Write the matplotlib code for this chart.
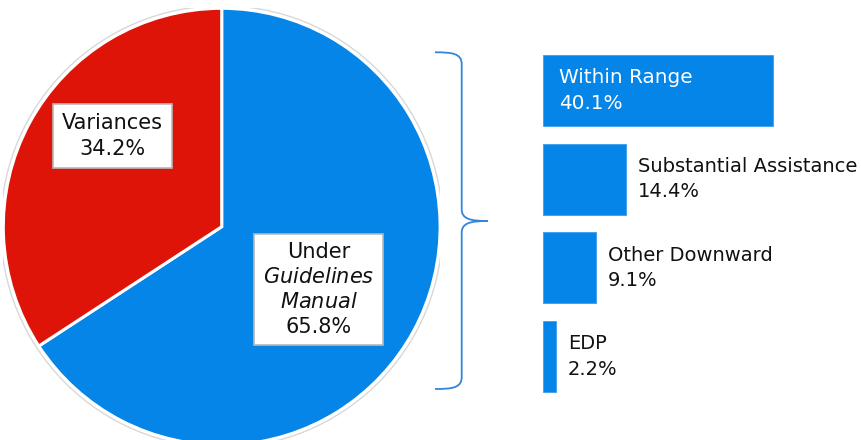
import matplotlib
matplotlib.use("Agg")
import matplotlib.pyplot as plt
from matplotlib.patches import Circle, PathPatch
from matplotlib.path import Path

# ---- data ----
pie_labels = ["Under\n$\\mathit{Guidelines}$\n$\\mathit{Manual}$", "Variances"]
pie_values = [65.8, 34.2]
bar_labels = ["Within Range", "Substantial Assistance", "Other Downward", "EDP"]
bar_values = [40.1, 14.4, 9.1, 2.2]

BLUE = "#0585E8"
RED = "#DE1408"
TXT = "#111111"

plt.rcParams['font.family'] = ['DejaVu Sans']
plt.rcParams['mathtext.fontset'] = 'dejavusans'

W, H = 862, 440
fig = plt.figure(figsize=(W / 100, H / 100), dpi=100)
fig.patch.set_facecolor("white")

def px_axes(left, top, right, bottom):
    return fig.add_axes([left / W, (H - bottom) / H, (right - left) / W, (bottom - top) / H])

# ---- pie ----
cx, cy, r = 221.7, 226.7, 218.4
axp = px_axes(cx - r, cy - r, cx + r, cy + r)
wedges, _ = axp.pie(pie_values, colors=[BLUE, RED], startangle=90, counterclock=False,
                    radius=1.0, wedgeprops=dict(edgecolor="white", linewidth=2.2))
axp.add_patch(Circle((0, 0), 1.012, fill=False, edgecolor="#d8d8d8", linewidth=1.0))
axp.set_xlim(-1, 1)
axp.set_ylim(-1, 1)
axp.axis("off")

box = dict(boxstyle="square,pad=0.42", facecolor="white", edgecolor="#b8b8b8", linewidth=1.2)
axp.text(0.444, -0.2875, f"{pie_labels[0]}\n{pie_values[0]:.1f}%", ha="center", va="center",
         fontsize=15, color=TXT, bbox=box, linespacing=1.3)
axp.text(-0.50, 0.414, f"{pie_labels[1]}\n{pie_values[1]:.1f}%", ha="center", va="center",
         fontsize=15, color=TXT, bbox=box, linespacing=1.4)

# ---- bars ----
x0 = 543.3
scale = 5.74  # px per percent
pitch = 88.8
top_center = 90.3
axb = px_axes(x0, top_center - pitch / 2, x0 + 55 * scale, top_center + 3.5 * pitch)
ypos = list(range(len(bar_values)))
axb.barh(ypos, bar_values, height=0.80, color=BLUE, edgecolor="#3a9cec", linewidth=0.6)
axb.set_xlim(0, 55)
axb.set_ylim(3.5, -0.5)
axb.axis("off")

for i, (lab, v) in enumerate(zip(bar_labels, bar_values)):
    txt = f"{lab}\n{v:.1f}%"
    if i == 0:
        axb.annotate(txt, (0, i), xytext=(15.7 * 0.72, 0), textcoords="offset points",
                     ha="left", va="center", fontsize=14.4, color="white", linespacing=1.45)
    else:
        axb.annotate(txt, (v, i), xytext=(12 * 0.72, 0), textcoords="offset points",
                     ha="left", va="center", fontsize=14, color=TXT, linespacing=1.45)

# ---- brace ----
axo = fig.add_axes([0, 0, 1, 1])
axo.set_xlim(0, W)
axo.set_ylim(H, 0)
axo.axis("off")
axo.patch.set_alpha(0)
xl, xv, xt = 435, 461.7, 488
yt, ym, yb = 52.3, 221, 389
verts = [(xl, yt), (452, yt), (xv, yt + 1), (xv, yt + 12),
         (xv, ym - 12),
         (xv, ym - 2), (470, ym), (xt, ym),
         (470, ym), (xv, ym + 2), (xv, ym + 12),
         (xv, yb - 12),
         (xv, yb - 1), (452, yb), (xl, yb)]
codes = [Path.MOVETO, Path.CURVE4, Path.CURVE4, Path.CURVE4,
         Path.LINETO,
         Path.CURVE4, Path.CURVE4, Path.CURVE4,
         Path.CURVE4, Path.CURVE4, Path.CURVE4,
         Path.LINETO,
         Path.CURVE4, Path.CURVE4, Path.CURVE4]
axo.add_patch(PathPatch(Path(verts, codes), fill=False, edgecolor="#2f86dc", linewidth=1.3))

fig.savefig("out.png", dpi=100, facecolor="white")
